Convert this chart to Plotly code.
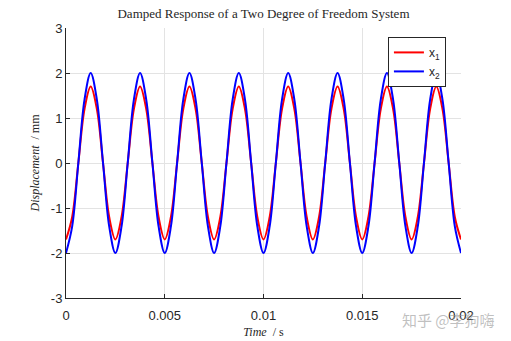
import plotly.graph_objects as go

# Sample times (s), eighth-period spacing
time_s = [
    0.0, 0.0003125, 0.000625, 0.0009375, 0.00125, 0.0015625, 0.001875, 0.0021875,
    0.0025, 0.0028125, 0.003125, 0.0034375, 0.00375, 0.0040625, 0.004375, 0.0046875,
    0.005, 0.0053125, 0.005625, 0.0059375, 0.00625, 0.0065625, 0.006875, 0.0071875,
    0.0075, 0.0078125, 0.008125, 0.0084375, 0.00875, 0.0090625, 0.009375, 0.0096875,
    0.01, 0.0103125, 0.010625, 0.0109375, 0.01125, 0.0115625, 0.011875, 0.0121875,
    0.0125, 0.0128125, 0.013125, 0.0134375, 0.01375, 0.0140625, 0.014375, 0.0146875,
    0.015, 0.0153125, 0.015625, 0.0159375, 0.01625, 0.0165625, 0.016875, 0.0171875,
    0.0175, 0.0178125, 0.018125, 0.0184375, 0.01875, 0.0190625, 0.019375, 0.0196875,
    0.02,
]

x1_mm = [
    -1.7, -1.2, 0.0, 1.2, 1.7, 1.2, 0.0, -1.2,
    -1.7, -1.2, 0.0, 1.2, 1.7, 1.2, 0.0, -1.2,
    -1.7, -1.2, 0.0, 1.2, 1.7, 1.2, 0.0, -1.2,
    -1.7, -1.2, 0.0, 1.2, 1.7, 1.2, 0.0, -1.2,
    -1.7, -1.2, 0.0, 1.2, 1.7, 1.2, 0.0, -1.2,
    -1.7, -1.2, 0.0, 1.2, 1.7, 1.2, 0.0, -1.2,
    -1.7, -1.2, 0.0, 1.2, 1.7, 1.2, 0.0, -1.2,
    -1.7, -1.2, 0.0, 1.2, 1.7, 1.2, 0.0, -1.2,
    -1.7,
]

x2_mm = [
    -2.0, -1.41, 0.0, 1.41, 2.0, 1.41, 0.0, -1.41,
    -2.0, -1.41, 0.0, 1.41, 2.0, 1.41, 0.0, -1.41,
    -2.0, -1.41, 0.0, 1.41, 2.0, 1.41, 0.0, -1.41,
    -2.0, -1.41, 0.0, 1.41, 2.0, 1.41, 0.0, -1.41,
    -2.0, -1.41, 0.0, 1.41, 2.0, 1.41, 0.0, -1.41,
    -2.0, -1.41, 0.0, 1.41, 2.0, 1.41, 0.0, -1.41,
    -2.0, -1.41, 0.0, 1.41, 2.0, 1.41, 0.0, -1.41,
    -2.0, -1.41, 0.0, 1.41, 2.0, 1.41, 0.0, -1.41,
    -2.0,
]

x_tick_vals = [0, 0.005, 0.01, 0.015, 0.02]
x_tick_text = ["0", "0.005", "0.01", "0.015", "0.02"]
y_tick_vals = [-3, -2, -1, 0, 1, 2, 3]
y_tick_text = ["-3", "-2", "-1", "0", "1", "2", "3"]

fig = go.Figure()
fig.add_trace(go.Scatter(x=time_s, y=x1_mm, mode="lines", name="x<sub>1</sub>",
                         line=dict(color="#ff0000", width=2, shape="spline", smoothing=1.0)))
fig.add_trace(go.Scatter(x=time_s, y=x2_mm, mode="lines", name="x<sub>2</sub>",
                         line=dict(color="#0000ff", width=2, shape="spline", smoothing=1.0)))

sans = "Liberation Sans, Arial, sans-serif"
serif = "Liberation Serif, Times New Roman, serif"

fig.update_layout(
    width=511, height=341,
    margin=dict(l=66, r=50, t=28, b=43, autoexpand=False),
    paper_bgcolor="white", plot_bgcolor="white",
    title=dict(text="Damped Response of a Two Degree of Freedom System",
               x=0.5, xref="paper", xanchor="center", y=1, yref="container",
               yanchor="top", pad=dict(t=9),
               font=dict(family=serif, size=13, color="#262626")),
    font=dict(family=sans, size=13, color="#262626"),
    showlegend=True,
    legend=dict(x=0.815, y=0.967, xanchor="left", yanchor="top",
                bgcolor="white", bordercolor="#262626", borderwidth=1,
                font=dict(family=sans, size=12, color="#262626"),
                tracegroupgap=0, itemwidth=30),
    xaxis=dict(range=[0, 0.02], tickvals=x_tick_vals, ticktext=x_tick_text,
               showgrid=True, gridcolor="#e3e3e3", gridwidth=1,
               showline=True, linecolor="#262626", linewidth=1,
               ticks="inside", ticklen=4, tickcolor="#262626",
               ticklabelstandoff=5, automargin=False,
               zeroline=False,
               title=dict(text="<i>Time</i>  / s", standoff=6,
                          font=dict(family=serif, size=12, color="#262626"))),
    yaxis=dict(range=[-3, 3], tickvals=y_tick_vals, ticktext=y_tick_text,
               showgrid=True, gridcolor="#e3e3e3", gridwidth=1,
               showline=True, linecolor="#262626", linewidth=1,
               ticks="inside", ticklen=4, tickcolor="#262626",
               automargin=False,
               zeroline=False,
               title=dict(text="<i>Displacement</i>  / mm", standoff=8,
                          font=dict(family=serif, size=12, color="#262626"))),
)

fig.add_annotation(text="知乎 @李狗嗨", xref="paper", yref="paper",
                   x=1.09, y=-0.035, xanchor="right", yanchor="top", showarrow=False,
                   font=dict(family="Noto Sans CJK SC", size=15, color="rgba(150,150,150,0.6)"))

fig.write_html("out.html")
